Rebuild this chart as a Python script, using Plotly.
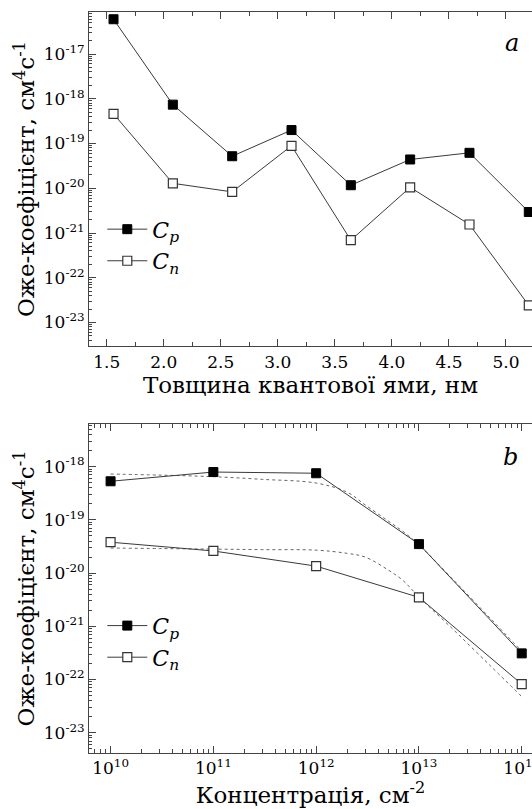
import plotly.graph_objects as go

# ---------- Panel a: thickness dependence ----------
thickness_nm = [1.56, 2.08, 2.60, 3.12, 3.64, 4.16, 4.68, 5.20]
cp_thick = [6.0e-17, 7.4e-19, 5.2e-20, 2.0e-19, 1.17e-20, 4.4e-20, 6.2e-20, 2.95e-21]
cn_thick = [4.6e-19, 1.29e-20, 8.3e-21, 8.9e-20, 6.9e-22, 1.05e-20, 1.55e-21, 2.4e-23]

# ---------- Panel b: concentration dependence ----------
conc = [1e10, 1e11, 1e12, 1e13, 1e14]
cp_conc = [5.3e-19, 7.9e-19, 7.5e-19, 3.5e-20, 3.1e-22]
cn_conc = [3.8e-20, 2.6e-20, 1.35e-20, 3.5e-21, 8.2e-23]

# dotted fit curves (log10 values)
fit_conc = [1e10, 3e10, 1e11, 3e11, 1e12, 2e12, 3e12, 5e12, 7e12, 1e13, 2e13, 5e13, 1e14]
cp_fit_log = [-18.14, -18.16, -18.19, -18.24, -18.31, -18.48, -18.72, -19.02, -19.22, -19.47, -20.06, -20.86, -21.47]
cn_fit_log = [-19.53, -19.54, -19.55, -19.56, -19.57, -19.63, -19.70, -19.94, -20.14, -20.45, -21.00, -21.75, -22.32]

y_exp_a = [-17, -18, -19, -20, -21, -22, -23]
y_exp_b = [-18, -19, -20, -21, -22, -23]
x_exp_b = [10, 11, 12, 13, 14]


def log_minor(lo, hi):
    vals = []
    for e in range(lo, hi):
        for d in range(2, 10):
            vals.append(d * 10.0 ** e)
    return vals


FONT = "DejaVu Serif"
LINE_C = "#3a3a3a"
AX_C = "#444444"

fig = go.Figure()


def add_pair(x, yp, yn, xa, ya, leg):
    fig.add_trace(go.Scatter(
        x=x, y=yp, mode="lines+markers", name="<i>C<sub>p</sub></i>",
        line=dict(color=LINE_C, width=1),
        marker=dict(symbol="square", size=9, color="black", line=dict(color="black", width=1)),
        xaxis=xa, yaxis=ya, legend=leg))
    fig.add_trace(go.Scatter(
        x=x, y=yn, mode="lines+markers", name="<i>C<sub>n</sub></i>",
        line=dict(color=LINE_C, width=1),
        marker=dict(symbol="square", size=9, color="white", line=dict(color="#333333", width=1.2)),
        xaxis=xa, yaxis=ya, legend=leg))


add_pair(thickness_nm, cp_thick, cn_thick, "x", "y", "legend")

for flog in (cp_fit_log, cn_fit_log):
    fig.add_trace(go.Scatter(
        x=fit_conc, y=[10 ** v for v in flog], mode="lines", line_shape="spline",
        line=dict(color="#666666", width=1, dash="dot"), showlegend=False,
        xaxis="x2", yaxis="y2", hoverinfo="skip"))

add_pair(conc, cp_conc, cn_conc, "x2", "y2", "legend2")

tickfont = dict(family=FONT, size=17, color="black")
titlefont = dict(family=FONT, size=23, color="black")
ytitle = "Оже-коефіцієнт, см<sup>4</sup>с<sup>-1</sup>"

common_ax = dict(showline=True, linecolor=AX_C, linewidth=1, ticks="inside",
                 tickcolor=AX_C, ticklen=7, showgrid=False, zeroline=False,
                 tickfont=tickfont, automargin=False, ticklabeloverflow="allow")

fig.update_layout(
    width=532, height=809,
    margin=dict(l=89, r=0, t=12, b=56, autoexpand=False),
    paper_bgcolor="white", plot_bgcolor="white",
    font=dict(family=FONT, color="black"),
    xaxis=dict(domain=[0, 1], anchor="y", range=[1.345, 5.228],
               tick0=1.5, dtick=0.5, tickformat=".1f", mirror="allticks",
               minor=dict(ticks="inside", dtick=0.25, tick0=1.5, ticklen=4, tickcolor=AX_C),
               title=dict(text="Товщина квантової ями, нм", font=titlefont, standoff=2),
               **common_ax),
    yaxis=dict(domain=[0.549, 1.0], anchor="x", type="log", range=[-23.53, -16.06],
               tickmode="array", tickvals=[10.0 ** e for e in y_exp_a],
               ticktext=[f"10<sup>{e}</sup>" for e in y_exp_a],
               minor=dict(ticks="inside", tickmode="array", tickvals=log_minor(-24, -16),
                          ticklen=3, tickcolor=AX_C),
               title=dict(text=ytitle, font=titlefont, standoff=2),
               **common_ax),
    xaxis2=dict(domain=[0, 1], anchor="y2", type="log", range=[9.79, 14.1],
                tickmode="array", tickvals=[10.0 ** e for e in x_exp_b],
                ticktext=[f"10<sup>{e}</sup>" for e in x_exp_b], mirror="allticks",
                minor=dict(ticks="inside", tickmode="array", tickvals=log_minor(9, 15),
                           ticklen=4, tickcolor=AX_C),
                title=dict(text="Концентрація, см<sup>-2</sup>", font=titlefont, standoff=0),
                **common_ax),
    yaxis2=dict(domain=[0, 0.444], anchor="x2", type="log", range=[-23.38, -17.2],
                tickmode="array", tickvals=[10.0 ** e for e in y_exp_b],
                ticktext=[f"10<sup>{e}</sup>" for e in y_exp_b],
                minor=dict(ticks="inside", tickmode="array", tickvals=log_minor(-24, -17),
                           ticklen=3, tickcolor=AX_C),
                title=dict(text=ytitle, font=titlefont, standoff=2),
                **common_ax),
    legend=dict(x=0.03, y=0.735, xanchor="left", yanchor="top", bgcolor="rgba(0,0,0,0)",
                font=dict(family=FONT, size=22, color="black"), itemwidth=40, tracegroupgap=0),
    legend2=dict(x=0.03, y=0.200, xanchor="left", yanchor="top", bgcolor="rgba(0,0,0,0)",
                 font=dict(family=FONT, size=22, color="black"), itemwidth=40, tracegroupgap=0),
    annotations=[
        dict(text="<i>a</i>", xref="paper", yref="paper", x=0.955, y=0.958,
             xanchor="center", yanchor="middle",
             showarrow=False, font=dict(family=FONT, size=24, color="black")),
        dict(text="<i>b</i>", xref="paper", yref="paper", x=0.952, y=0.40,
             xanchor="center", yanchor="middle",
             showarrow=False, font=dict(family=FONT, size=24, color="black")),
    ],
    showlegend=True,
)

fig.write_html("out.html", config={"displayModeBar": False},
               post_script="document.body.style.margin='0';document.body.style.padding='0';")
